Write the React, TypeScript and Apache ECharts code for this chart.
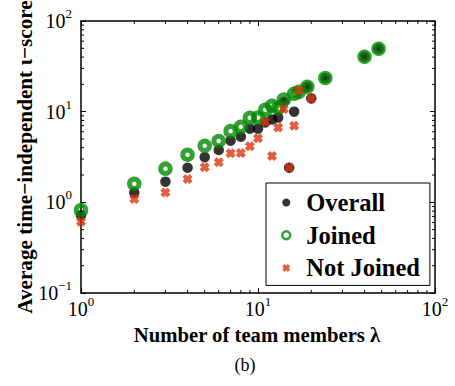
import React, { useEffect, useRef } from 'react';
import * as echarts from 'echarts';

// ---- data ----
const overallX = [1, 2, 3, 4, 5, 6, 7, 8, 9, 10, 11, 12, 13, 14, 15, 16, 19, 20, 24, 40, 48];
const overallY = [0.72, 1.28, 1.69, 2.41, 3.15, 3.77, 4.78, 5.29, 6.5, 6.5, 7.6, 8.2, 8.6, 12.8, 2.41, 10.0, 18.8, 14.0, 23.5, 40.3, 49.4];

const joinedX = [1, 2, 3, 4, 5, 6, 7, 8, 9, 10, 11, 12, 13, 14, 16, 17, 19, 24, 40, 48];
const joinedY = [0.82, 1.6, 2.35, 3.35, 4.2, 4.75, 6.1, 6.8, 8.57, 8.6, 10.5, 11.6, 11.0, 13.6, 15.8, 16.5, 18.8, 23.5, 40.3, 49.4];

const notJoinedX = [1, 2, 3, 4, 5, 6, 7, 8, 9, 10, 11, 12, 13, 14, 15, 16, 17, 20];
const notJoinedY = [0.61, 1.09, 1.28, 1.81, 2.43, 2.76, 3.47, 3.5, 4.15, 5.08, 7.7, 3.24, 6.7, 10.7, 2.41, 7.0, 17.2, 14.0];

const xMinorTicks = [2, 3, 4, 5, 6, 7, 8, 9, 20, 30, 40, 50, 60, 70, 80, 90];
const yMinorTicks = [0.2, 0.3, 0.4, 0.5, 0.6, 0.7, 0.8, 0.9, 2, 3, 4, 5, 6, 7, 8, 9, 20, 30, 40, 50, 60, 70, 80, 90];

const seriesNames = ['Overall', 'Joined', 'Not Joined'];
const xTitle = 'Number of team members λ';
const yTitle = 'Average time−independent ι−score';
const caption = '(b)';

// ---- styles ----
const GREEN = '#008a00';
const RED = '#dc3410';
const FONT = '"Liberation Serif", "Times New Roman", serif';
const XSYM = 'path://M3,0L5,2L7,0L10,3L8,5L10,7L7,10L5,8L3,10L0,7L2,5L0,3Z';

const zip = (xs: number[], ys: number[]) => xs.map((x, i) => [x, ys[i]]);

const labelFmt = (v: number) => {
  const e = Math.round(Math.log10(v));
  return `{b|10}{s|${e < 0 ? '−' + -e : e}}`;
};
const rich = {
  b: { fontSize: 20, lineHeight: 20, fontFamily: FONT, color: '#000', verticalAlign: 'bottom' },
  s: { fontSize: 13, lineHeight: 13, fontFamily: FONT, color: '#000', padding: [0, 0, 11, 0], verticalAlign: 'bottom' },
};

const axisLine = { show: true, onZero: false, lineStyle: { color: '#000', width: 1.5 } };
const axisTick = { show: true, inside: true, length: 5, lineStyle: { color: '#000', width: 1 } };

export default function App() {
  const ref = useRef<HTMLDivElement>(null);
  useEffect(() => {
    if (!ref.current) return;
    const chart = echarts.init(ref.current, undefined, { renderer: 'svg' });
    const option: any = {
      animation: false,
      backgroundColor: '#fff',
      grid: { left: 81, top: 21, right: 20, bottom: 93 },
      xAxis: [
        {
          type: 'log', logBase: 10, min: 1, max: 100, position: 'bottom',
          axisLine, axisTick, splitLine: { show: false },
          axisLabel: { formatter: labelFmt, rich, margin: 6, showMinLabel: true, showMaxLabel: true },
        },
        {
          type: 'log', logBase: 10, min: 1, max: 100, position: 'top',
          axisLine, axisTick, splitLine: { show: false }, axisLabel: { show: false },
        },
      ],
      yAxis: [
        {
          type: 'log', logBase: 10, min: 0.1, max: 100, position: 'left',
          axisLine, axisTick, splitLine: { show: false },
          axisLabel: { formatter: labelFmt, rich, margin: 9, showMinLabel: true, showMaxLabel: true },
        },
        {
          type: 'log', logBase: 10, min: 0.1, max: 100, position: 'right',
          axisLine, axisTick, splitLine: { show: false }, axisLabel: { show: false },
        },
      ],
      legend: {
        orient: 'vertical', left: 266, top: 183,
        padding: [7, 10, 5, 15], itemGap: 7.7, itemWidth: 30, itemHeight: 8,
        borderColor: '#000', borderWidth: 1, backgroundColor: '#fff',
        textStyle: { fontFamily: FONT, fontSize: 24.5, fontWeight: 'bold', color: '#000', lineHeight: 24 },
        data: [
          { name: seriesNames[0], icon: 'circle', itemStyle: { color: '#000' } },
          { name: seriesNames[1], icon: 'circle', itemStyle: { color: 'rgba(0,0,0,0)', borderColor: GREEN, borderWidth: 2.5 } },
          { name: seriesNames[2], icon: XSYM, itemStyle: { color: RED } },
        ],
      },
      series: [
        {
          type: 'custom', coordinateSystem: 'cartesian2d', silent: true, clip: false, z: 1,
          data: [...xMinorTicks.map((v) => [v, 1, 0]), ...yMinorTicks.map((v) => [1, v, 1])],
          renderItem: (params: any, api: any) => {
            const cs = params.coordSys;
            const L = cs.x, T = cs.y, R = cs.x + cs.width, B = cs.y + cs.height;
            const len = 3;
            const st = { stroke: '#000', lineWidth: 1 };
            if (api.value(2) === 0) {
              const x = api.coord([api.value(0), 1])[0];
              return {
                type: 'group',
                children: [
                  { type: 'line', shape: { x1: x, y1: B, x2: x, y2: B - len }, style: st },
                  { type: 'line', shape: { x1: x, y1: T, x2: x, y2: T + len }, style: st },
                ],
              };
            }
            const y = api.coord([1, api.value(1)])[1];
            return {
              type: 'group',
              children: [
                { type: 'line', shape: { x1: L, y1: y, x2: L + len, y2: y }, style: st },
                { type: 'line', shape: { x1: R, y1: y, x2: R - len, y2: y }, style: st },
              ],
            };
          },
        },
        {
          name: seriesNames[0], type: 'scatter', symbol: 'circle', symbolSize: 10.5, z: 2,
          itemStyle: { color: '#000' }, data: zip(overallX, overallY),
        },
        {
          name: seriesNames[1], type: 'scatter', symbol: 'circle', symbolSize: 9.5, z: 3,
          itemStyle: { color: 'rgba(0,0,0,0)', borderColor: GREEN, borderWidth: 5 },
          data: zip(joinedX, joinedY),
        },
        {
          name: seriesNames[2], type: 'scatter', symbol: XSYM, symbolSize: 10, z: 4,
          itemStyle: { color: RED }, data: zip(notJoinedX, notJoinedY),
        },
      ],
      graphic: [
        {
          type: 'text', x: 25, y: 157, rotation: Math.PI / 2,
          style: { text: yTitle, fontFamily: FONT, fontSize: 21.2, fontWeight: 'bold', fill: '#000', align: 'center', verticalAlign: 'middle' },
        },
        {
          type: 'text', x: 257, y: 335,
          style: { text: xTitle, fontFamily: FONT, fontSize: 20.7, fontWeight: 'bold', fill: '#000', align: 'center', verticalAlign: 'middle' },
        },
        {
          type: 'text', x: 245, y: 365,
          style: { text: caption, fontFamily: FONT, fontSize: 18, fill: '#000', align: 'center', verticalAlign: 'middle' },
        },
      ],
    };
    chart.setOption(option);
    return () => chart.dispose();
  }, []);
  return <div ref={ref} style={{ position: 'absolute', left: 0, top: 0, width: 455, height: 386 }} />;
}
